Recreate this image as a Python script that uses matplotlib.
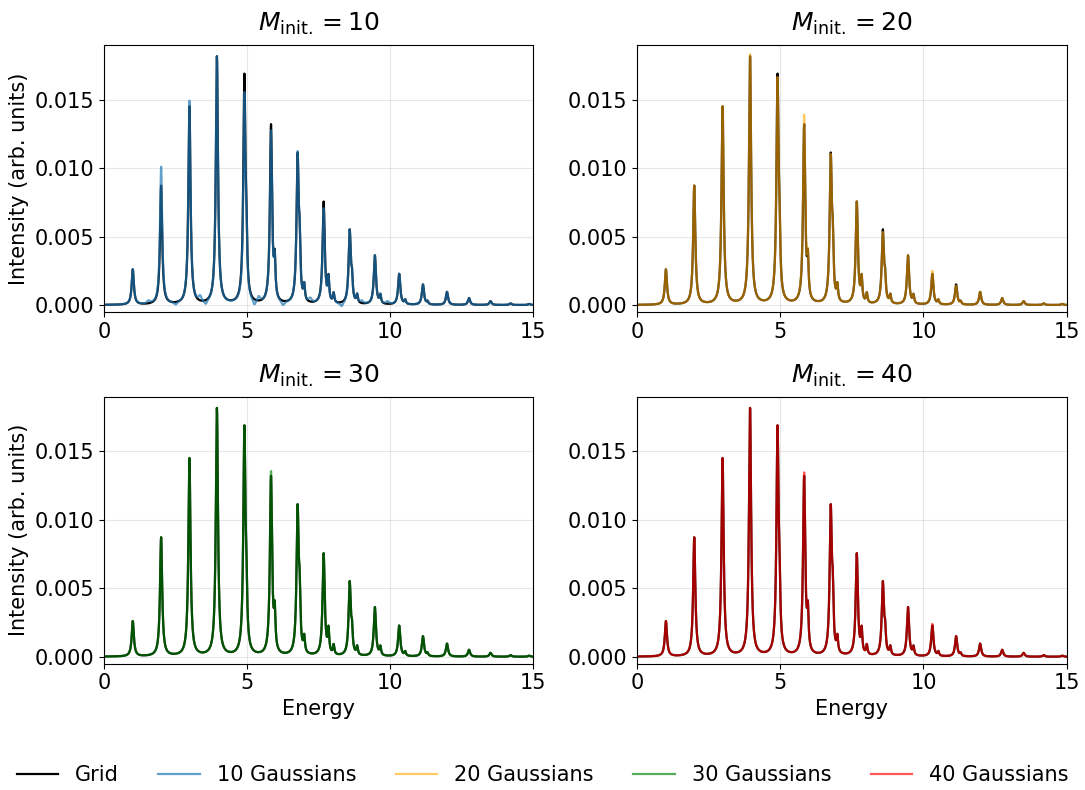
import numpy as np
import matplotlib
matplotlib.use("Agg")
import matplotlib.pyplot as plt

# main vibronic progression
peak_pos = [1.00, 1.99, 2.98, 3.94, 4.90, 5.83, 6.76, 7.67, 8.58, 9.46,
            10.31, 11.14, 11.98, 12.75, 13.50, 14.20, 14.85]
grid_h = [0.00258, 0.00868, 0.01445, 0.01810, 0.01635, 0.01300, 0.01055,
          0.00745, 0.00530, 0.00358, 0.00225, 0.00148, 0.00095, 0.00050,
          0.00028, 0.00012, 0.00008]

# weaker satellite lines on the high energy side
sat_pos = [4.97, 5.96, 6.83, 6.99, 7.84, 8.02, 8.66, 8.84, 9.65, 10.52, 11.30]
sat_h = [0.0030, 0.0026, 0.0032, 0.0011, 0.0017, 0.0007, 0.0014, 0.0006,
         0.0006, 0.0003, 0.0002]

# heights of the main lines for each Gaussian fit
fit10_h = [0.00258, 0.01005, 0.01485, 0.01810, 0.01500, 0.01255, 0.01065,
           0.00695, 0.00530, 0.00358, 0.00225, 0.00148, 0.00095, 0.00050,
           0.00028, 0.00012, 0.00008]
fit20_h = [0.00258, 0.00868, 0.01445, 0.01825, 0.01610, 0.01370, 0.01045,
           0.00745, 0.00510, 0.00358, 0.00247, 0.00138, 0.00095, 0.00050,
           0.00028, 0.00012, 0.00008]
fit30_h = [0.00258, 0.00868, 0.01445, 0.01810, 0.01635, 0.01335, 0.01055,
           0.00745, 0.00530, 0.00358, 0.00225, 0.00148, 0.00095, 0.00050,
           0.00028, 0.00012, 0.00008]
fit40_h = [0.00258, 0.00868, 0.01445, 0.01810, 0.01635, 0.01325, 0.01055,
           0.00745, 0.00530, 0.00358, 0.00237, 0.00148, 0.00095, 0.00050,
           0.00028, 0.00012, 0.00008]

# residual wiggles of the 10 Gaussian fit near the baseline
wig10_pos = [1.55, 2.50, 3.35, 3.55, 5.25, 5.40, 6.25, 7.20, 8.30, 9.00, 9.90]
wig10_h = [0.0002, -0.0002, 0.0004, -0.0003, -0.0004, 0.0004, -0.0003,
           0.0003, -0.0003, 0.0002, 0.0002]

labels = ["10 Gaussians", "20 Gaussians", "30 Gaussians", "40 Gaussians"]
m_init = [10, 20, 30, 40]
colors = ["tab:blue", "orange", "green", "red"]
alphas = [0.7, 0.6, 0.65, 0.65]


def lorentz(x, pos, h, g):
    y = np.zeros_like(x)
    for p, a in zip(pos, h):
        y += a * g**2 / ((x - p)**2 + g**2)
    return y


x = np.linspace(0, 15, 6000)
gam = 0.045
sat = lorentz(x, sat_pos, sat_h, 0.03)
grid = lorentz(x, peak_pos, grid_h, gam) + sat
fits = [lorentz(x, peak_pos, fit10_h, gam) + sat + lorentz(x, wig10_pos, wig10_h, 0.06),
        lorentz(x, peak_pos, fit20_h, gam) + sat,
        lorentz(x, peak_pos, fit30_h, gam) + sat,
        lorentz(x, peak_pos, fit40_h, gam) + sat]

fig, axes = plt.subplots(2, 2, figsize=(10.85, 7.9), dpi=100)
fig.subplots_adjust(left=0.096, right=0.983, top=0.943, bottom=0.16,
                    wspace=0.242, hspace=0.318)

handles = []
for i, ax in enumerate(axes.flat):
    l0, = ax.plot(x, grid, color="black", lw=1.6, label="Grid")
    l1, = ax.plot(x, fits[i], color=colors[i], alpha=alphas[i], lw=1.6,
                  label=labels[i])
    if i == 0:
        handles.append(l0)
    handles.append(l1)
    ax.set_xlim(0, 15)
    ax.set_ylim(-0.0005, 0.019)
    ax.set_xticks([0, 5, 10, 15])
    ax.set_yticks([0, 0.005, 0.010, 0.015])
    ax.yaxis.set_major_formatter(plt.FormatStrFormatter("%.3f"))
    ax.tick_params(labelsize=15)
    ax.grid(True, alpha=0.3)
    ax.set_title(r"$M_{\mathrm{init.}} = %d$" % m_init[i], fontsize=18, pad=10)
    if i % 2 == 0:
        ax.set_ylabel("Intensity (arb. units)", fontsize=15)
    if i >= 2:
        ax.set_xlabel("Energy", fontsize=15)

fig.legend(handles=handles, loc="center", bbox_to_anchor=(0.5, 0.019),
           ncol=5, frameon=False, fontsize=15, handlelength=2.0,
           columnspacing=1.9)

fig.savefig("out.png", dpi=100)
